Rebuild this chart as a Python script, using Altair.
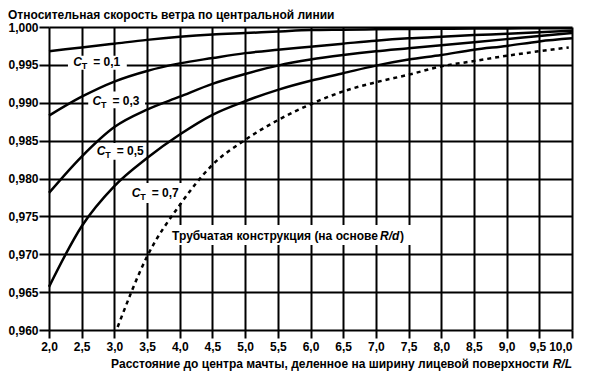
import altair as alt
import pandas as pd

# ---- data ----
x_vals = [2.0, 2.5, 3.0, 3.5, 4.0, 4.5, 5.0, 5.5, 6.0, 6.5, 7.0, 7.5, 8.0, 8.5, 9.0, 9.5, 10.0]
ct01 = [0.9968, 0.9973, 0.9978, 0.9983, 0.9987, 0.9990, 0.9992, 0.9994, 0.9996, 0.99965, 0.9997, 0.99973, 0.99976, 0.99979, 0.99981, 0.99983, 0.99985]
ct03 = [0.9883, 0.9908, 0.9928, 0.9942, 0.9952, 0.9959, 0.99655, 0.9970, 0.9974, 0.9978, 0.9982, 0.9985, 0.9987, 0.99893, 0.9991, 0.9993, 0.9995]
ct05 = [0.9781, 0.9829, 0.9868, 0.9891, 0.9908, 0.9925, 0.9938, 0.9949, 0.9957, 0.9963, 0.9968, 0.9972, 0.9976, 0.9980, 0.9984, 0.9988, 0.9992]
ct07 = [0.9657, 0.9737, 0.9790, 0.9827, 0.9858, 0.9884, 0.9902, 0.9917, 0.9929, 0.9939, 0.9949, 0.9957, 0.9963, 0.9970, 0.9975, 0.9981, 0.9985]
tub_x = [3.05, 3.5, 4.0, 4.5, 5.0, 5.5, 6.0, 6.5, 7.0, 7.5, 8.0, 8.5, 9.0, 9.5, 9.95]
tub_y = [0.9604, 0.9697, 0.9765, 0.9818, 0.9851, 0.9877, 0.9898, 0.9915, 0.9927, 0.9937, 0.9948, 0.9955, 0.9962, 0.9968, 0.9973]

x_ticks = [2.0, 2.5, 3.0, 3.5, 4.0, 4.5, 5.0, 5.5, 6.0, 6.5, 7.0, 7.5, 8.0, 8.5, 9.0, 9.5, 10.0]
y_ticks = [0.960, 0.965, 0.970, 0.975, 0.980, 0.985, 0.990, 0.995, 1.000]

ct_names = ["0,1", "0,3", "0,5", "0,7"]
ct_label_x = [2.37, 2.665, 2.73, 3.265]
ct_label_y = [0.99487, 0.98966, 0.98312, 0.97761]

tub_label_x = [3.883]
tub_label_y = [0.97189]

mask_x1 = [2.29, 2.60, 2.66, 3.21, 3.82]
mask_x2 = [3.19, 3.47, 3.47, 4.04, 7.556]
mask_y1 = [0.99435, 0.98929, 0.98246, 0.97678, 0.97123]
mask_y2 = [0.99620, 0.99148, 0.98470, 0.97942, 0.97387]

title_text = "Относительная скорость ветра по центральной линии"
xtitle_text = "Расстояние до центра мачты, деленное на ширину лицевой поверхности"
tub_text = "Трубчатая конструкция (на основе"

FONT = "Liberation Sans"
W, H = 523, 303

# ---- tables ----
rows = []
for name, ys in [("0,1", ct01), ("0,3", ct03), ("0,5", ct05), ("0,7", ct07)]:
    for xv, yv in zip(x_vals, ys):
        rows.append({"x": xv, "y": yv, "s": name})
curves = pd.DataFrame(rows)
tub = pd.DataFrame({"x": tub_x, "y": tub_y})
masks = pd.DataFrame({"x1": mask_x1, "x2": mask_x2, "y1": mask_y1, "y2": mask_y2})
labels = pd.DataFrame({"x": ct_label_x, "y": ct_label_y, "t": ct_names})
tlab = pd.DataFrame({"x": tub_label_x, "y": tub_label_y})

xscale = alt.Scale(domain=[2, 10], nice=False, zero=False)
yscale = alt.Scale(domain=[0.96, 1.0], nice=False, zero=False)

xaxis = alt.Axis(values=x_ticks, tickCount=100, title=None, grid=True, gridColor="black", gridWidth=2,
                 gridOpacity=1, domain=False, tickColor="black", tickWidth=2, tickSize=8,
                 labelFont=FONT, labelFontWeight="bold", labelFontSize=12, labelColor="black",
                 labelPadding=3, labelOverlap=False, labelFlush=False,
                 labelAlign=alt.condition("datum.value >= 10", alt.value("right"), alt.value("center")),
                 labelOffset=alt.condition("datum.value == 9.5", alt.value(-2), alt.value(0)),
                 labelExpr="replace(format(datum.value, '.1f'), '.', ',')")
yaxis = alt.Axis(values=y_ticks, tickCount=100, title=None, grid=True, gridColor="black", gridWidth=2,
                 gridOpacity=1, domain=False, tickColor="black", tickWidth=2, tickSize=10,
                 labelFont=FONT, labelFontWeight="bold", labelFontSize=12, labelColor="black",
                 labelPadding=1, labelOverlap=False, labelFlush=False,
                 labelExpr="replace(format(datum.value, '.3f'), '.', ',')")

mask_layer = alt.Chart(masks).mark_rect(color="white").encode(
    x=alt.X("x1:Q", scale=xscale, axis=xaxis), x2="x2",
    y=alt.Y("y1:Q", scale=yscale, axis=yaxis), y2="y2")

solid = alt.Chart(curves).mark_line(color="black", strokeWidth=2.5, interpolate="monotone").encode(
    x=alt.X("x:Q", scale=xscale, axis=xaxis), y=alt.Y("y:Q", scale=yscale, axis=yaxis), detail="s:N")

dashed = alt.Chart(tub).mark_line(color="black", strokeWidth=2.5, strokeDash=[4, 4],
                                  interpolate="monotone").encode(
    x=alt.X("x:Q", scale=xscale, axis=xaxis), y=alt.Y("y:Q", scale=yscale, axis=yaxis))


def txt(df, text, dx=0, dy=0, size=12, style="normal", align="left"):
    return alt.Chart(df).mark_text(font=FONT, fontWeight="bold", fontSize=size, fontStyle=style,
                                   align=align, baseline="alphabetic", dx=dx, dy=dy, color="black",
                                   text=text).encode(
        x=alt.X("x:Q", scale=xscale, axis=xaxis), y=alt.Y("y:Q", scale=yscale, axis=yaxis))


c_layer = txt(labels, "C", style="italic")
t_layer = txt(labels, "T", dx=8.5, dy=3, size=9)
v_layer = alt.Chart(labels).transform_calculate(t2="'= ' + datum.t").mark_text(
    font=FONT, fontWeight="bold", fontSize=12, align="left",
    baseline="alphabetic", dx=20, color="black").encode(
    x=alt.X("x:Q", scale=xscale, axis=xaxis), y=alt.Y("y:Q", scale=yscale, axis=yaxis),
    text=alt.Text("t2:N"))

tub1 = txt(tlab, tub_text)
tub2 = txt(tlab, "R/d", dx=208, style="italic")
tub3 = txt(tlab, ")", dx=228)

one = pd.DataFrame({"k": [0]})
title_layer = alt.Chart(one).mark_text(font=FONT, fontWeight="bold", fontSize=12, align="left",
                                       baseline="alphabetic", color="black", text=title_text).encode(
    x=alt.value(-41), y=alt.value(-8))
xt1 = alt.Chart(one).mark_text(font=FONT, fontWeight="bold", fontSize=12, align="right",
                               baseline="alphabetic", color="black", text=xtitle_text).encode(
    x=alt.value(W - 23), y=alt.value(H + 38))
xt2 = alt.Chart(one).mark_text(font=FONT, fontWeight="bold", fontSize=12, align="right",
                               fontStyle="italic", baseline="alphabetic", color="black",
                               text="R/L").encode(x=alt.value(W), y=alt.value(H + 38))

chart = alt.layer(mask_layer, solid, dashed, c_layer, t_layer, v_layer, tub1, tub2, tub3,
                  title_layer, xt1, xt2).properties(
    width=W, height=H,
    autosize=alt.AutoSizeParams(type="none"),
    padding={"left": 41, "top": 19, "right": 9, "bottom": 42},
    background="white",
).configure_view(strokeWidth=0)

chart.save("out.html", embed_options={"renderer": "svg", "actions": False})
